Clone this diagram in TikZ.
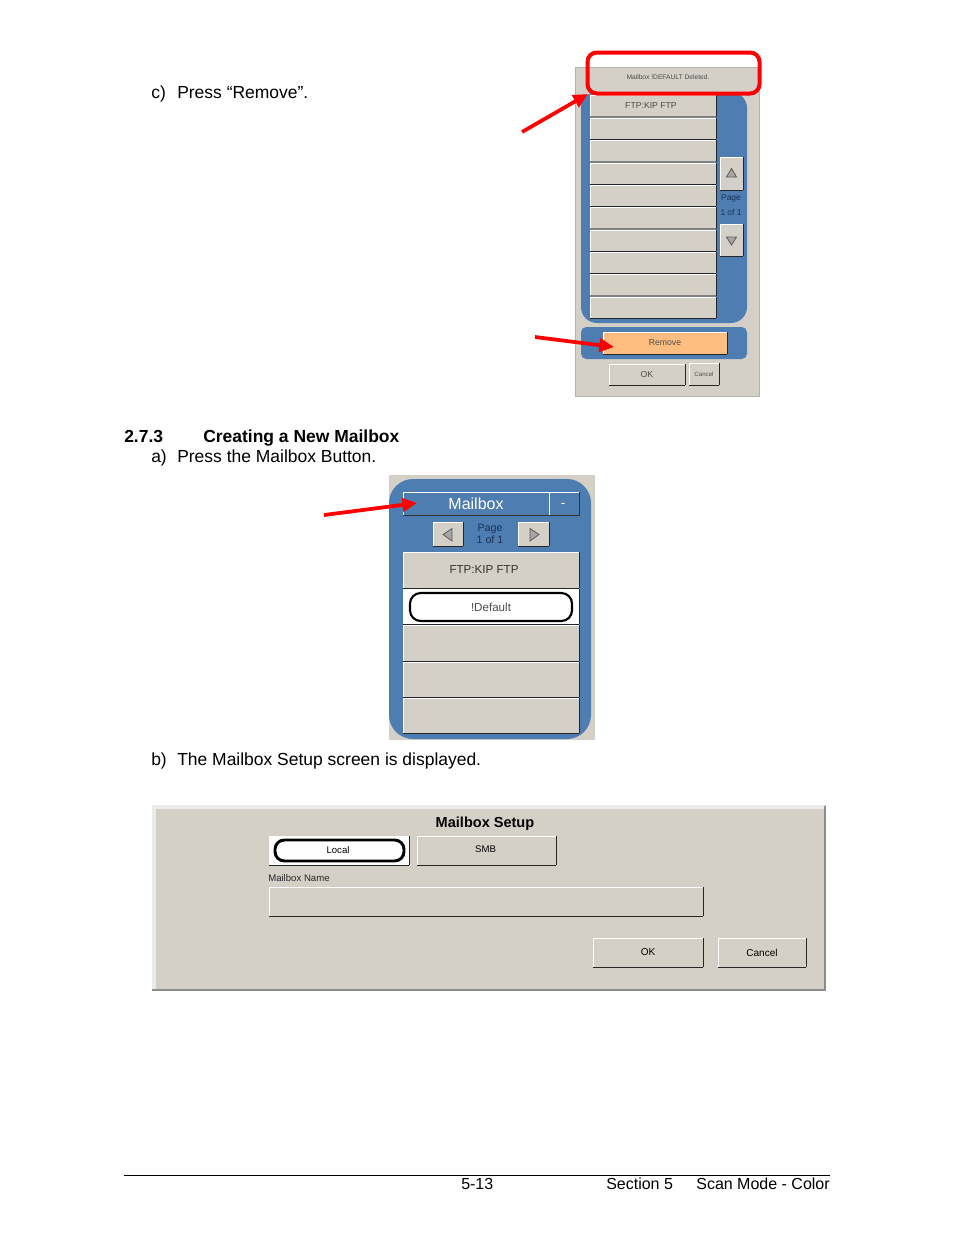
\documentclass[tikz,border=0pt]{standalone}
\usepackage{xcolor}
\usepackage{fontspec}
\setmainfont{Liberation Sans}
\usetikzlibrary{arrows.meta}

\definecolor{panel}{HTML}{D4D0C8}
\definecolor{mailblue}{HTML}{4E7DB2}
\definecolor{removeorange}{HTML}{FFBE80}
\definecolor{pagetext}{HTML}{1F2F55}

\tikzset{
  sz/.style 2 args={minimum width=#1*0.75pt,minimum height=#2*0.75pt,inner sep=0pt,outer sep=0pt,anchor=north west},
  raised/.style={fill=#1,append after command={
    (\tikzlastnode.south west) edge[white,line width=0.75pt] (\tikzlastnode.north west)
    (\tikzlastnode.north west) edge[white,line width=0.75pt] (\tikzlastnode.north east)
    (\tikzlastnode.north east) edge[black!85,line width=0.75pt] (\tikzlastnode.south east)
    (\tikzlastnode.south east) edge[black!85,line width=0.75pt] (\tikzlastnode.south west)}},
  raised/.default=panel,
  greyrow/.style={fill=panel,append after command={
    (\tikzlastnode.south west) edge[white,line width=0.75pt] (\tikzlastnode.north west)
    (\tikzlastnode.north west) edge[white,line width=0.75pt] (\tikzlastnode.north east)
    (\tikzlastnode.south east) edge[black!85,line width=0.75pt] (\tikzlastnode.north east)
    (\tikzlastnode.south west) edge[black!50,line width=1pt] (\tikzlastnode.south east)}},
  bodytext/.style={anchor=base west,inner sep=0pt,font=\fontsize{13.1}{15}\selectfont},
  foottext/.style={anchor=base west,inner sep=0pt,font=\fontsize{12}{14}\selectfont},
  tiny/.style={inner sep=0pt,text=black!70,font=\fontsize{5}{6}\selectfont},
  small/.style={inner sep=0pt,text=black!70,font=\fontsize{6.5}{8}\selectfont},
  pointer/.style={red,line width=2.8pt,-{Triangle[length=11pt,width=10pt]}},
  oval/.style={draw=black,fill=white,rounded corners=8pt,line width=1.6pt},
  tri/.style={draw=black!65,fill=black!35,line width=0.6pt}
}

\begin{document}
\begin{tikzpicture}[x=0.75pt,y=-0.75pt]
\useasboundingbox[fill=white] (0,0) rectangle (954,1235);

% Page text
\node[bodytext] (stepc) at (151,98) {c)};
\node[bodytext] (stepctext) at (177,98) {Press “Remove”.};
\node[bodytext,font=\fontsize{13.1}{15}\selectfont\bfseries] (secnum) at (124,442) {2.7.3};
\node[bodytext,font=\fontsize{13.1}{15}\selectfont\bfseries] (sectitle) at (203,442) {Creating a New Mailbox};
\node[bodytext] (stepa) at (151,462) {a)};
\node[bodytext] (stepatext) at (177,462) {Press the Mailbox Button.};
\node[bodytext] (stepb) at (151,765) {b)};
\node[bodytext] (stepbtext) at (177,765) {The Mailbox Setup screen is displayed.};

% Remove screen
\node[sz={184}{329},fill=panel,draw=black!30,line width=0.5pt] (removescreen) at (575,67) {};
\node[sz={166}{231},fill=mailblue,rounded corners=12pt] (listpanel) at (581,92) {};
\node[sz={166}{32},fill=mailblue,rounded corners=4pt] (removepanel) at (581,327) {};
\node[sz={126}{22},greyrow] (rowa) at (590,95) {};
\node[sz={126}{21},raised] (rowb) at (590,118) {};
\node[sz={126}{22},greyrow] (rowc) at (590,140) {};
\node[sz={126}{21},raised] (rowd) at (590,163) {};
\node[sz={126}{21},raised] (rowe) at (590,185) {};
\node[sz={126}{22},greyrow] (rowf) at (590,207) {};
\node[sz={126}{21},raised] (rowg) at (590,230) {};
\node[sz={126}{21},raised] (rowh) at (590,252) {};
\node[sz={126}{22},greyrow] (rowi) at (590,274) {};
\node[sz={126}{21},raised] (rowj) at (590,297) {};
\node[small] (ftplabel) at (651,105.5) {FTP:KIP FTP};
\node[sz={23}{33},raised] (upbtn) at (720,157) {};
\node[sz={23}{32},raised] (downbtn) at (720,224) {};
\draw[tri] (726.5,177) -- (736.5,177) -- (731.5,168.5) -- cycle;
\draw[tri] (726.5,237) -- (736.5,237) -- (731.5,245) -- cycle;
\node[inner sep=0pt,text=pagetext,font=\fontsize{6.3}{7}\selectfont] (pagelabel) at (731,198) {Page};
\node[inner sep=0pt,text=pagetext,font=\fontsize{6.3}{7}\selectfont] (pagenum) at (731,212) {1 of 1};
\node[sz={124}{22},raised=removeorange] (removebtn) at (603,332) {};
\node[small] (removelabel) at (665,343) {Remove};
\node[sz={76}{21},raised] (okbtn) at (609,364) {};
\node[small] (oklabel) at (647,374.5) {OK};
\node[sz={30}{22},raised] (cancelbtn) at (689,363) {};
\node[tiny,font=\fontsize{4.6}{5}\selectfont] (cancellabel) at (704,374.5) {Cancel};
\node[tiny] (message) at (668,77) {Mailbox !DEFAULT Deleted.};
\node[sz={172}{41},draw=red,line width=3pt,rounded corners=7pt] (msgbox) at (587.5,52.5) {};

% Mailbox screen
\node[sz={206}{265},fill=panel] (mailscreen) at (389,475) {};
\node[sz={202}{260},fill=mailblue,rounded corners=18pt] (mailpanel) at (389,479) {};
\node[sz={146}{23}] (titlebtn) at (403,492) {};
\node[text=white,inner sep=0pt,font=\fontsize{12}{14}\selectfont] (titlelabel) at (476,503.5) {Mailbox};
\node[sz={30}{23}] (dashbtn) at (549,492) {};
\node[text=white,inner sep=0pt,font=\fontsize{10}{12}\selectfont] (dashlabel) at (563,505) {-};
\draw[white,line width=0.6pt] (titlebtn.south west) -- (titlebtn.north west) -- (dashbtn.north east);
\draw[white,line width=0.6pt] (dashbtn.north west) -- (dashbtn.south west);
\draw[black!80,line width=0.6pt] (titlebtn.south west) -- (dashbtn.south east) -- (dashbtn.north east);
\node[sz={30}{24},raised] (leftbtn) at (433,522) {};
\node[sz={31}{24},raised] (rightbtn) at (518,522) {};
\draw[tri] (452,528.5) -- (452,541) -- (443,534.5) -- cycle;
\draw[tri] (530,528.5) -- (530,541) -- (539,534.5) -- cycle;
\node[inner sep=0pt,text=pagetext,align=center,font=\fontsize{8}{9}\selectfont] (mailpage) at (490,534) {Page\\1 of 1};
\node[sz={176}{36},raised] (mailrowa) at (403,552) {};
\node[inner sep=0pt,text=black!80,font=\fontsize{8.7}{10}\selectfont] (mailftp) at (484,569.5) {FTP:KIP FTP};
\node[sz={176}{35},raised=white] (mailrowb) at (403,589) {};
\node[sz={162}{28},oval] (defaultoval) at (410,593) {};
\node[inner sep=0pt,text=black!70,font=\fontsize{8.7}{10}\selectfont] (defaultlabel) at (491,607) {!Default};
\node[sz={176}{36},raised] (mailrowc) at (403,625) {};
\node[sz={176}{35},raised] (mailrowd) at (403,662) {};
\node[sz={176}{35},raised] (mailrowe) at (403,698) {};

% Mailbox Setup screen
\node[sz={674}{186},fill=panel] (setupscreen) at (152,805) {};
\draw[black!8,line width=3pt] (153.5,991) -- (153.5,806.5) -- (825,806.5);
\draw[black!45,line width=2pt] (152,990) -- (825,990) -- (825,806);
\node[inner sep=0pt,font=\fontsize{10.9}{12}\selectfont\bfseries] (setuptitle) at (485,823.5) {Mailbox Setup};
\node[sz={140}{29},raised=white] (localbtn) at (269,836) {};
\node[sz={129}{21},draw=black,fill=white,rounded corners=7pt,line width=2.2pt] (localoval) at (275,840) {};
\node[inner sep=0pt,font=\fontsize{7.2}{8}\selectfont] (locallabel) at (338,850) {Local};
\node[sz={139}{29},raised] (smbbtn) at (417,836) {};
\node[inner sep=0pt,font=\fontsize{7.2}{8}\selectfont] (smblabel) at (485.5,849.5) {SMB};
\node[anchor=west,inner sep=0pt,text=black!85,font=\fontsize{7.2}{8}\selectfont] (namelabel) at (268,878) {Mailbox Name};
\node[sz={434}{29},raised] (namefield) at (269,887) {};
\node[sz={110}{29},raised,font=\fontsize{7.5}{9}\selectfont] (setupok) at (593,938) {OK};
\node[sz={88}{29},raised,font=\fontsize{7.5}{9}\selectfont] (setupcancel) at (718,938) {Cancel};

% Arrows
\coordinate (arrowc) at (522,132);
\coordinate (arrowctip) at (588,94);
\coordinate (arrowr) at (535,337);
\coordinate (arrowrtip) at (614,347);
\coordinate (arrowm) at (324,515);
\coordinate (arrowmtip) at (417,503);
\draw[pointer] (arrowc) -- (arrowctip);
\draw[pointer] (arrowr) -- (arrowrtip);
\draw[pointer] (arrowm) -- (arrowmtip);

% Footer
\coordinate (footl) at (124,1175);
\coordinate (footr) at (830,1175);
\draw[black,line width=0.6pt] (footl) -- (footr);
\node[foottext] (pageno) at (461,1189) {5-13};
\node[foottext] (footsec) at (606,1189) {Section 5};
\node[foottext,anchor=base east] (footmode) at (830,1189) {Scan Mode - Color};
\end{tikzpicture}
\end{document}
